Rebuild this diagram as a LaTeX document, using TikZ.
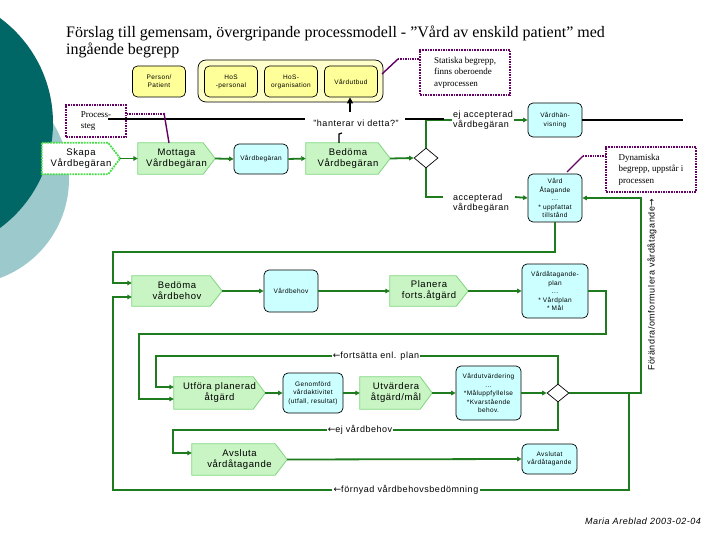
\documentclass[tikz,border=0pt]{standalone}
\usepackage{fontspec}
\setmainfont{Liberation Serif}
\newfontfamily\sansf[LetterSpace=6]{Liberation Sans}
\newfontfamily\djv{DejaVu Sans}
\usetikzlibrary{arrows.meta,shapes.geometric,backgrounds}
\definecolor{tealA}{HTML}{006666}
\definecolor{tealB}{HTML}{9CC9CB}
\definecolor{gline}{HTML}{1E7B1E}
\definecolor{pfill}{HTML}{C8F5C3}
\definecolor{pborder}{HTML}{7ED67E}
\definecolor{cfill}{HTML}{CCFFFF}
\definecolor{yfill}{HTML}{FFFF99}
\definecolor{ycont}{HTML}{FFFFCC}
\definecolor{purp}{HTML}{660066}
\definecolor{sgreen}{HTML}{44DD44}
\begin{document}
\begin{tikzpicture}[x=1pt,y=-1pt,
  gl/.style={draw=gline, line width=1.8pt},
  tip/.style={-{Triangle[length=4.5pt,width=4.5pt]}},
  bl/.style={draw=black, line width=1.5pt},
  procn/.style={minimum height=31pt, inner sep=0pt, align=center, font=\sansf\fontsize{9.5}{11}\selectfont},
  pshape/.style={fill=pfill, draw=pborder, line width=0.8pt},
  cyb/.style={draw=black, fill=cfill, rounded corners=5pt, line width=0.7pt, inner sep=0pt, align=center, font=\sansf\fontsize{6.5}{8.5}\selectfont},
  ybox/.style={draw=black, fill=yfill, rounded corners=5pt, line width=0.7pt, inner sep=0pt, align=center, minimum height=31pt, minimum width=53pt, font=\sansf\fontsize{6.5}{8}\selectfont},
  pnote/.style={draw=purp, densely dotted, line width=1.6pt, inner sep=3pt, align=left, anchor=center, font=\fontsize{9}{11.5}\selectfont},
  lab/.style={fill=white, inner sep=1pt, align=left, font=\sansf\fontsize{9}{10.5}\selectfont},
  dia/.style={diamond, draw=black, fill=white, line width=0.7pt, inner sep=0pt},
  callout/.style={draw=purp, line width=1.4pt},
  calldot/.style={draw=purp, line width=1.4pt, densely dotted}
]
\useasboundingbox (0,0) rectangle (720,540);

% title
\node[anchor=base west, inner sep=0pt, font=\fontsize{16}{18}\selectfont] (t1) at (66,37.5) {Förslag till gemensam, övergripande processmodell - ”Vård av enskild patient” med};
\node[anchor=base west, inner sep=0pt, font=\fontsize{16}{18}\selectfont] (t2) at (66,55) {ingående begrepp};

% top static boxes
\node[draw=black, fill=ycont, rounded corners=8pt, line width=0.7pt, minimum width=185pt, minimum height=42pt] (cont) at (290.5,81) {};
\node[ybox] (person) at (159,81.5) {Person/\\Patient};
\node[ybox] (hosp) at (231,81.5) {HoS\\-personal};
\node[ybox] (hoso) at (291,81.5) {HoS-\\organisation};
\node[ybox] (vutb) at (351,81.5) {Vårdutbud};

\node[pnote, minimum width=90pt, minimum height=45pt] (stat) at (465,72.5) {Statiska begrepp,\\finns oberoende\\avprocessen};
\node[pnote, minimum width=60pt, minimum height=32pt] (psteg) at (96,121) {Process-\\steg};
\node[pnote, minimum width=90pt, minimum height=45pt] (dyn) at (651,169.5) {Dynamiska\\begrepp, uppstår i\\processen};

% process nodes
\node[procn, minimum width=78pt] (skapa) at (81,158.5) {Skapa\\Vårdbegäran};
\node[procn, minimum width=77pt] (mottaga) at (176.5,158.5) {Mottaga\\Vårdbegäran};
\node[cyb, minimum width=54pt, minimum height=30pt] (vbeg) at (261,159) {Vårdbegäran};
\node[procn, minimum width=84pt] (bedvb) at (348,158.5) {Bedöma\\Vårdbegäran};
\node[dia, minimum width=24pt, minimum height=20pt] (d1) at (426,158) {};
\node[cyb, minimum width=54pt, minimum height=34pt] (vhan) at (555,120) {Vårdhän-\\visning};
\node[cyb, minimum width=54pt, minimum height=48pt] (vat) at (555,198) {Vård\\Åtagande\\...\\* uppfattat\\tillstånd};

\node[procn, minimum width=90pt, minimum height=30pt] (bedbeh) at (177,291) {Bedöma\\vårdbehov};
\node[cyb, minimum width=54pt, minimum height=42pt] (vbeh) at (291,291) {Vårdbehov};
\node[procn, minimum width=78pt, minimum height=30pt] (plan) at (429,291) {Planera\\forts.åtgärd};
\node[cyb, minimum width=66pt, minimum height=54pt] (vplan) at (555,291) {Vårdåtagande-\\plan\\...\\* Vårdplan\\* Mål};

\node[procn, minimum width=91pt, minimum height=32pt] (utf) at (219.5,393) {Utföra planerad\\åtgärd};
\node[cyb, minimum width=60pt, minimum height=40pt] (genom) at (313,393) {Genomförd\\vårdaktivitet\\(utfall, resultat)};
\node[procn, minimum width=72pt, minimum height=32pt] (utv) at (396,393) {Utvärdera\\åtgärd/mål};
\node[cyb, minimum width=65pt, minimum height=54pt] (vutv) at (488.5,393) {Vårdutvärdering\\...\\*Måluppfyllelse\\*Kvarstående\\behov.};
\node[dia, minimum width=22pt, minimum height=18pt] (d2) at (558,393) {};

\node[procn, minimum width=95pt, minimum height=31pt] (avsl) at (239.5,459.5) {Avsluta\\vårdåtagande};
\node[cyb, minimum width=55pt, minimum height=30pt] (avslat) at (549.5,459) {Avslutat\\vårdåtagande};

% labels
\node[lab, fill=none] (hant) at (356,123) {”hanterar vi detta?”};
\node[lab] (lej) at (483,120) {ej accepterad\\vårdbegäran};
\node[lab] (lacc) at (481,203) {accepterad\\vårdbegäran};
\node[lab] (lfort) at (376,356) {{\djv ←}fortsätta enl. plan};
\node[lab] (lejv) at (360,430) {{\djv ←}ej vårdbehov};
\node[lab] (lforn) at (406,490) {{\djv ←}förnyad vårdbehovsbedömning};
\node[inner sep=0pt, rotate=90, font=\sansf\fontsize{9}{10}\selectfont] (lforand) at (652,285) {Förändra/omformulera vårdåtagande{\djv →}};
\node[inner sep=0pt, font=\sansf\itshape\fontsize{9}{10}\selectfont] (sign) at (643,521) {Maria Areblad 2003-02-04};

% coordinates
\coordinate (s1) at (108,119);
\coordinate (s2) at (305,119);
\coordinate (s3) at (405,119);
\coordinate (s4) at (444,119);
\coordinate (s5) at (683,120);
\coordinate (a1) at (443,197);
\coordinate (a2) at (515,197);
\coordinate (br) at (629,393);

% green connectors
\draw[gl, tip] (skapa.east) -- (mottaga.west);
\draw[gl, tip] (mottaga.east) -- (vbeg.west);
\draw[gl, tip] (vbeg.east) -- (bedvb.west);
\draw[gl, tip] (bedvb.east) -- (d1.west);
\draw[gl] (d1.north) |- (lej.west);
\draw[gl, tip] (lej.east) -- (vhan.west);
\draw[gl] (d1.south) |- (a1);
\draw[gl, tip] (a2) -- (vat.west);
\draw[gl, tip] (vat.south) |- (113,252) |- ([yshift=8pt]bedbeh.west);
\draw[gl, tip] (bedbeh.east) -- (vbeh.west);
\draw[gl, tip] (vbeh.east) -- (plan.west);
\draw[gl, tip] (plan.east) -- (vplan.west);
\draw[gl, tip] (vplan.east) -- (606,291) -- (606,334) -- (139,334) |- ([yshift=-6pt]utf.west);
\draw[gl] (d2.north) |- (lfort.east);
\draw[gl, tip] (lfort.west) -| (156,387) -- ([yshift=6pt]utf.west);
\draw[gl, tip] (utf.east) -- (genom.west);
\draw[gl, tip] (genom.east) -- (utv.west);
\draw[gl, tip] (utv.east) -- (vutv.west);
\draw[gl, tip] (vutv.east) -- (d2.west);
\draw[gl, tip] (d2.east) -| (641,198) -- (vat.east);
\draw[gl] (br) |- (lforn.east);
\draw[gl, tip] (lforn.west) -| (113,297) -- ([yshift=-6pt]bedbeh.west);
\draw[gl] (d2.south) |- (lejv.east);
\draw[gl, tip] (lejv.west) -| (173,453) -- ([yshift=6.5pt]avsl.west);
\draw[gl, tip] (avsl.east) -- (avslat.west);

% black swimlane line
\draw[bl] (s1) -- (s2);
\draw[bl] (s3) -- (s4);
\draw[bl] (vhan.east) -- (s5);
\draw[black, line width=1.2pt, -{Triangle[length=6pt,width=6pt]}] (350,112) -- (vutb.south -| 350,0);
\draw[black, line width=1.2pt] (339,143) -- (339,134) -- (342,133);

% callouts
\draw[callout] (382,74) -- (398,59);
\draw[calldot] (398,59) -- (stat.west |- 0,59);
\draw[calldot] (psteg.east |- 0,114) -- (164,114);
\draw[callout] (164,113) -- (169,143);
\draw[callout] (567,172) -- (583,156);
\draw[calldot] (583,156) -- (dyn.west |- 0,156);

\begin{scope}[on background layer]
  \fill[white] (0,0) rectangle (720,540);
  \fill[tealB] (-36.5,179) circle (105.5);
  \fill[tealA] (-77.5,123) circle (130.5);
  \foreach \n in {mottaga,bedvb,bedbeh,plan,utf,utv,avsl}
    \draw[pshape] (\n.north west) -- ([xshift=-12pt]\n.north east) -- (\n.east) -- ([xshift=-12pt]\n.south east) -- (\n.south west) -- cycle;
  \draw[fill=white, draw=sgreen, line width=1.8pt, densely dotted] (skapa.north west) -- ([xshift=-12pt]skapa.north east) -- (skapa.east) -- ([xshift=-12pt]skapa.south east) -- (skapa.south west) -- cycle;
\end{scope}
\end{tikzpicture}
\end{document}
